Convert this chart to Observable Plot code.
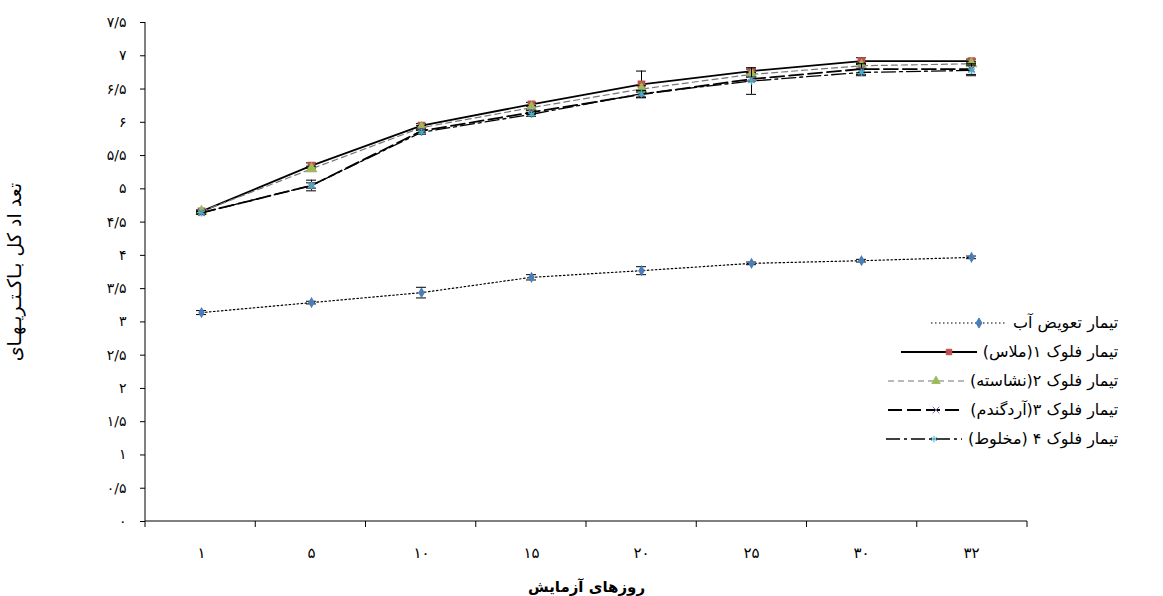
<!DOCTYPE html>
<html><head><meta charset="utf-8">
<script src="https://cdn.jsdelivr.net/npm/d3@7"></script>
<script src="https://cdn.jsdelivr.net/npm/@observablehq/plot@0.6"></script>
<style>
body{margin:0;background:#fff;font-family:"DejaVu Sans",sans-serif}
#wrap{position:relative;width:1163px;height:596px}
#legend{position:absolute;left:884px;top:308px;direction:rtl;font-size:16px}
#legend div{height:29px;display:flex;align-items:center;gap:4px}
</style></head><body>
<div id="wrap"><div id="chart"></div><div id="legend"></div></div>
<script>
const days = ["1","5","10","15","20","25","30","32"];
const dayLabels = ["۱","۵","۱۰","۱۵","۲۰","۲۵","۳۰","۳۲"];
const water = [3.14,3.29,3.44,3.67,3.77,3.88,3.92,3.97];
const waterErr = [0.03,0.02,0.08,0.04,0.06,0.02,0.02,0.02];
const floc1 = [4.66,5.35,5.95,6.27,6.57,6.77,6.92,6.92];
const floc1Err = [0.02,0.04,0.03,0.03,0.2,0.03,0.05,0.03];
const floc2 = [4.66,5.3,5.92,6.22,6.5,6.72,6.85,6.88];
const floc2Err = [0.02,0.04,0.03,0.03,0.05,0.03,0.04,0.03];
const floc3 = [4.64,5.05,5.87,6.15,6.42,6.65,6.8,6.8];
const floc3Err = [0.02,0.04,0.03,0.03,0.05,0.03,0.08,0.08];
const floc4 = [4.64,5.05,5.85,6.12,6.43,6.62,6.75,6.78];
const floc4Err = [0.02,0.08,0.03,0.03,0.05,0.2,0.05,0.08];
const names = ["تیمار تعویض آب","تیمار فلوک ۱(ملاس)","تیمار فلوک ۲(نشاسته)","تیمار فلوک ۳(آردگندم)","تیمار فلوک ۴ (مخلوط)"];
const yTicks = d3.range(0,7.51,0.5);
const fa = n => String(n).replace(".", "/").replace(/\d/g,d=>"۰۱۲۳۴۵۶۷۸۹"[d]);

const series = [
 {v:water,e:waterErr,dash:"1.5,2.5",w:1.2,col:"#4a7ebb",sym:"diamond",r:2.5},
 {v:floc1,e:floc1Err,dash:null,w:1.8,col:"#c0504d",sym:"square",r:3.5},
 {v:floc2,e:floc2Err,dash:"6,4",w:1.2,col:"#9bbb59",sym:"triangle",r:3.5,stroke:"#777"},
 {v:floc3,e:floc3Err,dash:"14,5",w:1.8,col:"#8064a2",sym:"times",r:3},
 {v:floc4,e:floc4Err,dash:"14,4,3,4",w:1.3,col:"#4bacc6",sym:"asterisk",r:3.5}
];
const rows = [];
series.forEach((s,i)=>s.v.forEach((v,j)=>rows.push({s:i,day:days[j],v,e:s.e[j]})));
const marks = [];
series.forEach((s,i)=>{
  const d = rows.filter(r=>r.s===i);
  marks.push(Plot.line(d,{x:"day",y:"v",stroke:s.stroke||"#000",strokeWidth:s.w,strokeDasharray:s.dash}));
  marks.push(Plot.ruleX(d,{x:"day",y1:r=>r.v-r.e,y2:r=>r.v+r.e,stroke:"#000",strokeWidth:1}));
  marks.push(Plot.tickY(d,{x:"day",y:r=>r.v-r.e,stroke:"#000",inset:50}));
  marks.push(Plot.tickY(d,{x:"day",y:r=>r.v+r.e,stroke:"#000",inset:50}));
  marks.push(Plot.dot(d,{x:"day",y:"v",symbol:s.sym,r:s.r,fill:s.col,stroke:s.col}));
});
const yLabel = "تعد اد کل بـاکـتـریـهـای";
const chart = Plot.plot({
  width:1163,height:596,marginLeft:145,marginRight:136,marginTop:22,marginBottom:75,
  style:{fontFamily:"DejaVu Sans",fontSize:"14px",color:"#000"},
  x:{type:"band",domain:days,padding:0},
  y:{domain:[0,7.5]},
  marks:[
    Plot.axisX({tickFormat:(d,i)=>dayLabels[i],tickSize:0,tickPadding:26,label:"روزهای آزمایش",labelAnchor:"center",labelOffset:70,fontSize:15}),
    Plot.axisY({ticks:yTicks,tickFormat:fa,tickSize:5,tickPadding:14,label:yLabel,labelAnchor:"center",labelOffset:138,labelArrow:"none",fontSize:14}),
    ...marks
  ]
});
document.getElementById("chart").append(chart);
const svg = d3.select(chart);
svg.append("line").attr("x1",145).attr("x2",145).attr("y1",22).attr("y2",521).attr("stroke","#000");
svg.append("line").attr("x1",145).attr("x2",1027).attr("y1",521).attr("y2",521).attr("stroke","#000");
for(let k=0;k<=8;k++){const x=145+k*882/8;svg.append("line").attr("x1",x).attr("x2",x).attr("y1",521).attr("y2",527).attr("stroke","#000");}
svg.selectAll("text").filter(function(){return this.textContent===yLabel}).attr("font-size",19).attr("letter-spacing","2px");
svg.selectAll("text").filter(function(){return this.textContent==="روزهای آزمایش"}).attr("font-size",15).attr("font-weight","bold");
const lg = d3.select("#legend");
series.forEach((s,i)=>{
  const row = lg.append("div");
  row.append("span").text(names[i]);
  const sv = row.append("svg").attr("width",80).attr("height",12);
  sv.append("line").attr("x1",2).attr("x2",78).attr("y1",6).attr("y2",6).attr("stroke",s.stroke||"#000").attr("stroke-width",s.w).attr("stroke-dasharray",s.dash);
  const symMap={diamond:d3.symbolDiamond,square:d3.symbolSquare,triangle:d3.symbolTriangle,times:d3.symbolTimes,asterisk:d3.symbolAsterisk};
  sv.append("path").attr("d",d3.symbol(symMap[s.sym],30)()).attr("transform","translate(50,6)").attr("fill",s.col).attr("stroke",s.col);
});
</script></body></html>
